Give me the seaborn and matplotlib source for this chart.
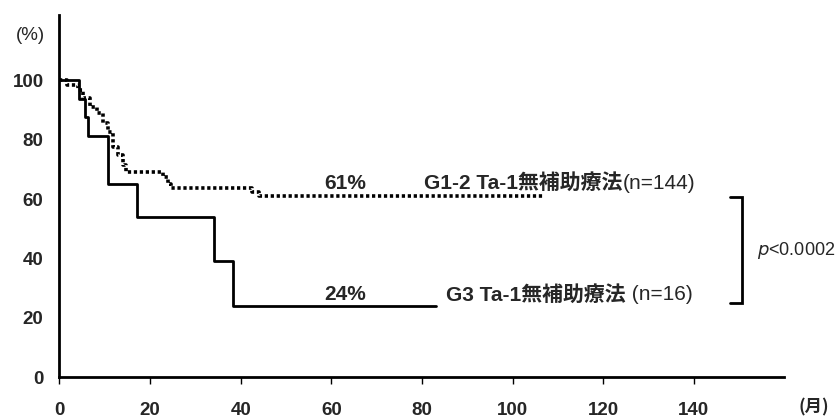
import matplotlib
matplotlib.use("Agg")
import matplotlib.pyplot as plt
import seaborn as sns
import pandas as pd

# Kaplan-Meier style survival steps (months, %)
g12_months = [0, 1.7, 4.0, 5.2, 6.7, 8.2, 9.6, 10.7, 11.8, 13.0, 14.0, 14.6,
              21.6, 22.8, 24.0, 24.7, 41.5, 42.6, 44.0, 107]
g12_surv = [100, 98.3, 96.6, 94.0, 91.0, 89.0, 85.5, 82.5, 77.5, 74.7, 71.4, 69.0,
            69.0, 67.3, 65.2, 63.6, 63.6, 62.3, 61.0, 61.0]

g3_months = [0, 4.4, 5.7, 6.4, 10.6, 17.0, 34.0, 38.4, 83]
g3_surv = [100, 93.75, 87.5, 81.25, 65.0, 54.0, 39.0, 24.0, 24.0]

x_ticks = [0, 20, 40, 60, 80, 100, 120, 140]
y_ticks = [0, 20, 40, 60, 80, 100]

g12_label = "G1-2 Ta-1無補助療法"
g12_n = "(n=144)"
g3_label = "G3 Ta-1無補助療法"
g3_n = " (n=16)"
g12_final = 61
g3_final = 24
p_text = "<0.0002"

sns.set_theme(style="white")
plt.rcParams['font.family'] = ['Liberation Sans', 'Noto Sans CJK JP', 'DejaVu Sans']

df12 = pd.DataFrame({"month": g12_months, "surv": g12_surv})
df3 = pd.DataFrame({"month": g3_months, "surv": g3_surv})

fig = plt.figure(figsize=(8.38, 4.19), dpi=100)
ax = fig.add_axes([0.071, 0.1002, 0.865, 0.8638])

sns.lineplot(data=df12, x="month", y="surv", ax=ax, color="black",
             drawstyle="steps-post", linewidth=2.6, estimator=None, sort=False)
ax.lines[-1].set_dashes((0.9, 0.75))
ax.lines[-1].set_dash_capstyle("butt")
sns.lineplot(data=df3, x="month", y="surv", ax=ax, color="black",
             drawstyle="steps-post", linewidth=2.0, estimator=None, sort=False)

ax.set_xlim(0, 160)
ax.set_ylim(0, 122)
ax.set_xlabel("")
ax.set_ylabel("")
for s in ["top", "right"]:
    ax.spines[s].set_visible(False)
for s in ["left", "bottom"]:
    ax.spines[s].set_color("black")
    ax.spines[s].set_linewidth(2.0)

TICK_FS = 13.5
ANN_FS = 15

ax.set_xticks(x_ticks)
ax.set_xticklabels([str(v) for v in x_ticks], fontsize=TICK_FS, fontweight="bold")
ax.set_yticks(y_ticks)
ax.set_yticklabels([str(v) for v in y_ticks], fontsize=TICK_FS, fontweight="bold")
ax.tick_params(axis="x", direction="out", length=5, width=1, color="black", pad=13)
ax.tick_params(axis="y", length=0, pad=11.5)
ax.xaxis.set_ticks_position("bottom")

# unit labels
ax.text(166.5, -10.3, "(月)", fontsize=12.5, fontweight="bold", ha="center",
        va="center", clip_on=False, family=['Noto Sans CJK JP', 'DejaVu Sans'])
ax.text(-6.5, 115, "(%)", fontsize=TICK_FS, ha="center", va="center", clip_on=False)

# value labels
ax.text(63, 65.3, f"{g12_final}%", fontsize=ANN_FS, fontweight="bold", ha="center", va="center")
ax.text(63, 27.7, f"{g3_final}%", fontsize=ANN_FS, fontweight="bold", ha="center", va="center")

fig.canvas.draw()
renderer = fig.canvas.get_renderer()

def label_pair(x, y, bold_txt, reg_txt):
    t1 = ax.text(x, y, bold_txt, fontsize=ANN_FS, fontweight="bold", ha="left", va="center",
                 family=['Liberation Sans', 'Noto Sans CJK JP'])
    fig.canvas.draw()
    bb = t1.get_window_extent(renderer)
    xr = ax.transData.inverted().transform((bb.x1, 0))[0]
    ax.text(xr, y, reg_txt, fontsize=ANN_FS, ha="left", va="center")

label_pair(80.5, 65.3, g12_label, g12_n)
label_pair(85.3, 27.7, g3_label, g3_n)

# significance bracket
bx = 150.7
ax.plot([bx - 2.6, bx, bx, bx - 2.6], [60.6, 60.6, 25, 25], color="black",
        linewidth=2.0, clip_on=False, solid_joinstyle="miter")
ax.text(bx + 3.2, 42.7, "$p$" + p_text, fontsize=13, ha="left", va="center", clip_on=False)

fig.savefig("out.png", dpi=100)
